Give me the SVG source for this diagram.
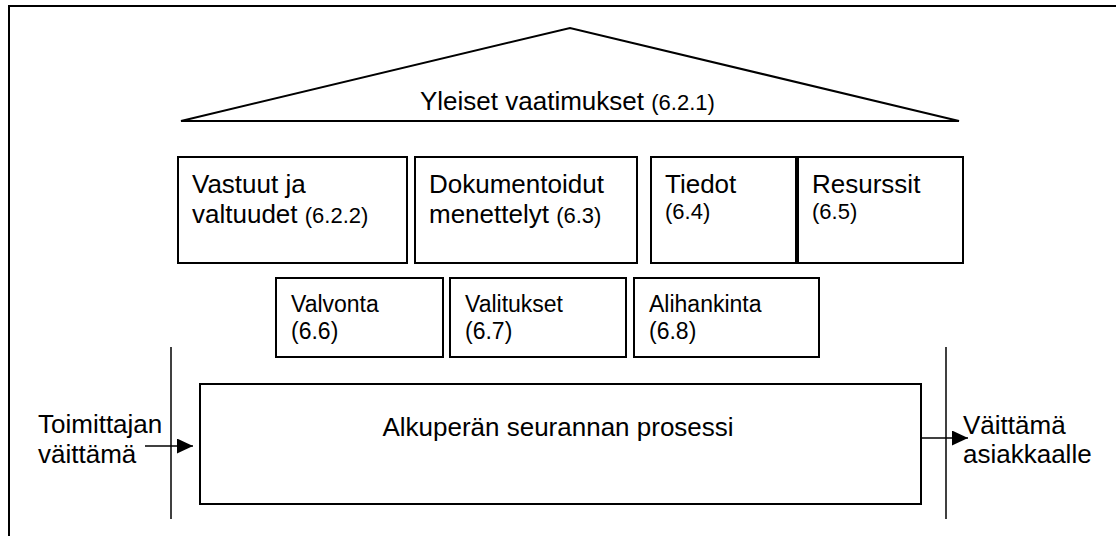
<svg xmlns="http://www.w3.org/2000/svg" width="1116" height="536" viewBox="0 0 1116 536">
<style>
  .box { fill: #fff; stroke: #000; stroke-width: 2; }
  .ln { stroke: #000; stroke-width: 1.5; fill: none; }
  text { font-family: "Liberation Sans", Arial, sans-serif; fill: #000; }
  .big { font-size: 26px; }
  .num { font-size: 22px; }
  .mid { font-size: 23px; }
</style>
<defs>
  <marker id="arr" markerUnits="userSpaceOnUse" markerWidth="16" markerHeight="16" refX="16" refY="7.5" orient="auto">
    <path d="M0,0 L16,7.5 L0,15 Z" fill="#000"/>
  </marker>
</defs>
<rect width="1116" height="536" fill="#fff"/>
<rect x="9" y="6" width="1200" height="600" fill="none" stroke="#000" stroke-width="2"/>

<g id="roof">
  <polygon points="181,121 570,28 959,121" fill="none" stroke="#000" stroke-width="2"/>
  <text x="420" y="110" class="big">Yleiset vaatimukset <tspan class="num">(6.2.1)</tspan></text>
</g>

<g id="vastuut">
  <rect class="box" x="178" y="157" width="229" height="106"/>
  <text x="192" y="193" class="big">Vastuut ja</text>
  <text x="192" y="223" class="big">valtuudet <tspan class="num">(6.2.2)</tspan></text>
</g>
<g id="dokumentoidut">
  <rect class="box" x="415" y="157" width="222" height="106"/>
  <text x="429" y="193" class="big">Dokumentoidut</text>
  <text x="429" y="223" class="big">menettelyt <tspan class="num">(6.3)</tspan></text>
</g>
<g id="tiedot">
  <rect class="box" x="651" y="157" width="145" height="106"/>
  <text x="665" y="193" class="big">Tiedot</text>
  <text x="665" y="219" class="num">(6.4)</text>
</g>
<g id="resurssit">
  <rect class="box" x="798" y="157" width="165" height="106"/>
  <text x="812" y="193" class="big">Resurssit</text>
  <text x="812" y="219" class="num">(6.5)</text>
</g>

<g id="valvonta">
  <rect class="box" x="276" y="278" width="167" height="79"/>
  <text x="291" y="312" class="mid">Valvonta</text>
  <text x="291" y="339" class="mid">(6.6)</text>
</g>
<g id="valitukset">
  <rect class="box" x="450" y="278" width="176" height="79"/>
  <text x="465" y="312" class="mid">Valitukset</text>
  <text x="465" y="339" class="mid">(6.7)</text>
</g>
<g id="alihankinta">
  <rect class="box" x="634" y="278" width="185" height="79"/>
  <text x="649" y="312" class="mid">Alihankinta</text>
  <text x="649" y="339" class="mid">(6.8)</text>
</g>

<g id="prosessi">
  <rect class="box" x="200" y="384" width="721" height="120"/>
  <text x="558" y="436" class="big" text-anchor="middle">Alkuperän seurannan prosessi</text>
</g>

<g id="toimittajan">
  <text x="38" y="433" class="big">Toimittajan</text>
  <text x="38" y="463" class="big">väittämä</text>
</g>
<g id="asiakkaalle">
  <text x="963" y="434" class="big">Väittämä</text>
  <text x="963" y="463" class="big">asiakkaalle</text>
</g>

<g id="connectors">
  <line class="ln" x1="171" y1="347" x2="171" y2="519"/>
  <line class="ln" x1="946" y1="347" x2="946" y2="519"/>
  <line class="ln" x1="145" y1="446" x2="193" y2="446" marker-end="url(#arr)"/>
  <line class="ln" x1="921" y1="438" x2="968" y2="438" marker-end="url(#arr)"/>
</g>
</svg>
